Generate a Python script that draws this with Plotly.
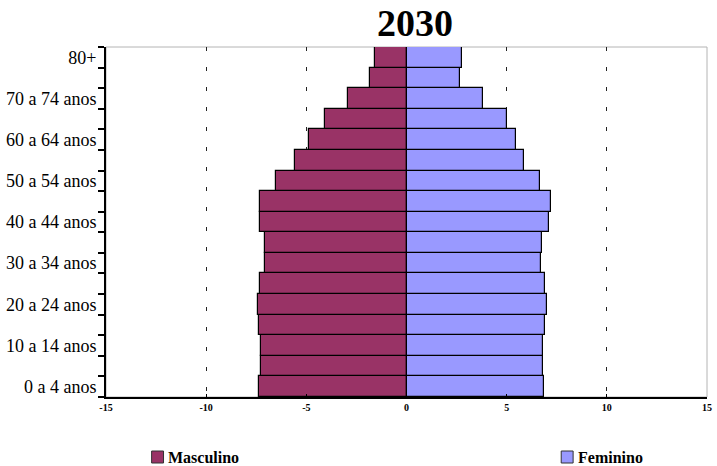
import plotly.graph_objects as go

# Population pyramid, projection for 2030 (% of population by age group)
age_groups = [
    "0 a 4 anos", "5 a 9 anos", "10 a 14 anos", "15 a 19 anos", "20 a 24 anos",
    "25 a 29 anos", "30 a 34 anos", "35 a 39 anos", "40 a 44 anos", "45 a 49 anos",
    "50 a 54 anos", "55 a 59 anos", "60 a 64 anos", "65 a 69 anos", "70 a 74 anos",
    "75 a 79 anos", "80+",
]
masculino = [7.36, 7.26, 7.25, 7.36, 7.43, 7.30, 7.07, 7.07, 7.30, 7.30,
             6.53, 5.55, 4.88, 4.08, 2.90, 1.81, 1.57]
feminino = [6.86, 6.80, 6.80, 6.92, 7.01, 6.93, 6.72, 6.77, 7.10, 7.20,
            6.67, 5.88, 5.45, 5.00, 3.80, 2.65, 2.75]
series_names = ["Masculino", "Feminino"]
series_colors = ["#993366", "#9999FF"]
x_ticks = [-15, -10, -5, 0, 5, 10, 15]
title_text = "2030"

# only every other age group gets a label
y_ticktext = [g if i % 2 == 0 else "" for i, g in enumerate(age_groups)]

SERIF = "Liberation Serif, Times New Roman, serif"

fig = go.Figure()
fig.add_trace(go.Bar(
    y=age_groups, x=[-v for v in masculino], orientation="h",
    name=series_names[0], marker=dict(color=series_colors[0], line=dict(color="black", width=1.2)),
))
fig.add_trace(go.Bar(
    y=age_groups, x=feminino, orientation="h",
    name=series_names[1], marker=dict(color=series_colors[1], line=dict(color="black", width=1.2)),
))

W, H = 717, 466
ml, mr, mt, mb = 106, 5, 47, 69
pw, ph = W - ml - mr, H - mt - mb

def px_x(p):
    return (p - ml) / pw

def px_y(p):
    return (H - mb - p) / ph

shapes = [
    # light frame around the plotting area
    dict(type="rect", xref="paper", yref="paper", x0=0, x1=1, y0=0, y1=1,
         line=dict(color="#b4b4b4", width=1), layer="below"),
]
annotations = []

# custom legend at the bottom
legend_items = [(152, 167), (565, 580)]
for (sq_x, tx_x), name, col in zip(legend_items, series_names, series_colors):
    yc = 457
    shapes.append(dict(type="rect", xref="paper", yref="paper",
                       x0=px_x(sq_x), x1=px_x(sq_x + 12),
                       y0=px_y(yc + 6), y1=px_y(yc - 6),
                       fillcolor=col, line=dict(color="#333333", width=1)))
    annotations.append(dict(text="<b>" + name + "</b>", xref="paper", yref="paper",
                            x=px_x(tx_x), y=px_y(yc), xanchor="left", yanchor="middle",
                            showarrow=False, font=dict(family=SERIF, size=16, color="black")))

fig.update_layout(
    width=W, height=H,
    margin=dict(l=ml, r=mr, t=mt, b=mb, pad=0),
    paper_bgcolor="white", plot_bgcolor="white",
    barmode="relative", bargap=0,
    showlegend=False,
    title=dict(text="<b>" + title_text + "</b>", x=415 / W, xanchor="center",
               y=1 - 23 / H, yanchor="middle", yref="container",
               font=dict(family=SERIF, size=38, color="black")),
    xaxis=dict(
        range=[-15, 15], tickvals=x_ticks, ticktext=["<b>%d</b>" % v for v in x_ticks],
        tickfont=dict(family=SERIF, size=10, color="black"),
        showline=True, linecolor="black", linewidth=2,
        ticks="inside", ticklen=3, tickcolor="black",
        showgrid=True, gridcolor="#222222", gridwidth=1, griddash="4px,16px",
        zeroline=False,
    ),
    yaxis=dict(
        type="category", categoryorder="array", categoryarray=age_groups,
        tickvals=age_groups, ticktext=y_ticktext,
        tickson="boundaries", ticks="outside", ticklen=6, tickcolor="black", tickwidth=1.5,
        ticklabelstandoff=4,
        tickfont=dict(family=SERIF, size=18, color="black"),
        showline=True, linecolor="black", linewidth=2,
        showgrid=False, zeroline=False, range=[-0.5, len(age_groups) - 0.5],
    ),
    shapes=shapes,
    annotations=annotations,
)

fig.write_html("out.html")
